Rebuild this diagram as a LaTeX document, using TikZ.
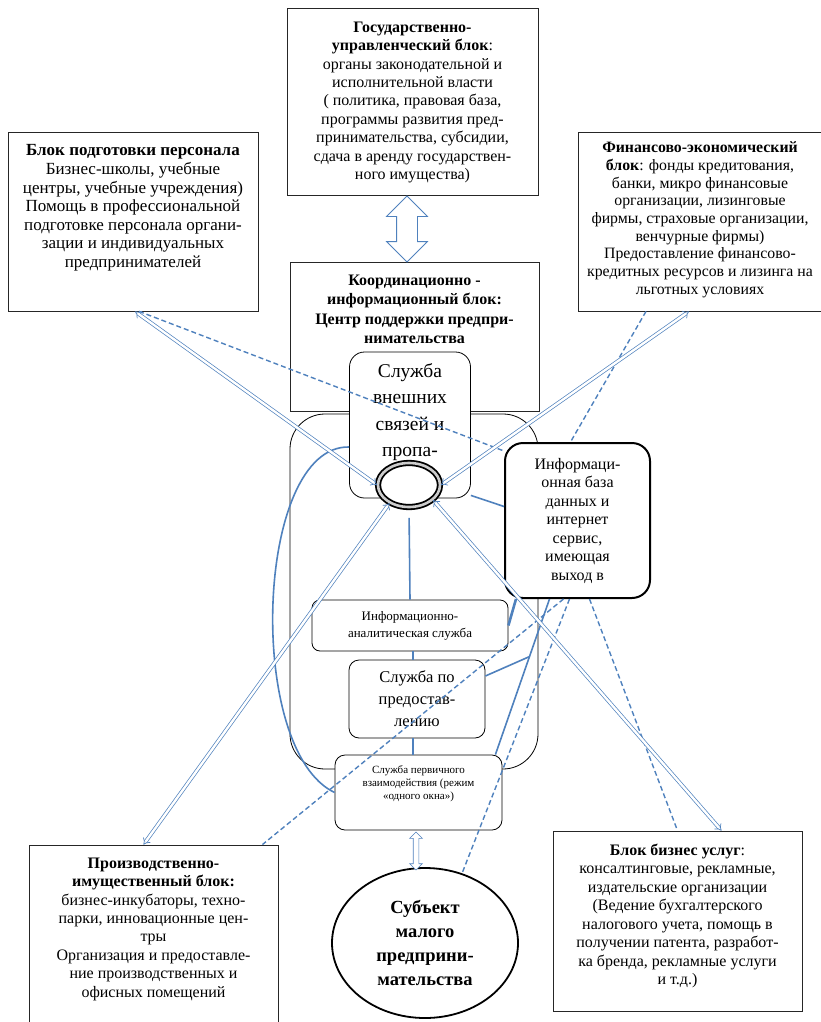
\documentclass[tikz,border=0pt]{standalone}
\usepackage{fontspec}
\setmainfont{Liberation Serif}
\usetikzlibrary{positioning,shapes.geometric,shapes.arrows,arrows.meta}
\definecolor{linkblue}{RGB}{79,129,189}
\newcommand\setfs[2]{\fontsize{#1}{#2}\selectfont}

\begin{document}
\begin{tikzpicture}[x=1pt,y=-1pt,
	block/.style={rectangle,draw=black!85,line width=0.8pt,fill=white,inner sep=0pt},
	service/.style={rectangle,rounded corners=10pt,draw=black,line width=0.8pt,fill=white,align=center,inner sep=0pt},
	txt/.style={align=center,inner sep=0pt},
	link/.style={draw=linkblue,line width=1.6pt},
	dlink/.style={draw=linkblue,line width=1.4pt,dash pattern=on 5pt off 3pt},
	twin/.style={draw=linkblue,line width=0.7pt,double=white,double distance=2.4pt,{Implies}-{Implies}},
	bigarrow/.style={double arrow,draw=linkblue,line width=0.8pt,fill=white,inner sep=0pt,rotate=90}
]

	\useasboundingbox (0,0) rectangle (821,1022);

	% outer blocks
	\node[block,minimum width=251pt,minimum height=187pt] (govBlk) at (412.5,101.5) {};
	\node[txt,below=14pt of govBlk.north,font=\setfs{16}{18.4}] (govTxt) {%
		\textbf{Государственно-}\\
		\textbf{управленческий блок}:\\
		органы законодательной и\\
		исполнительной власти\\
		( политика, правовая база,\\
		программы развития пред-\\
		принимательства, субсидии,\\
		сдача в аренду государствен-\\
		ного имущества)};

	\node[block,minimum width=250pt,minimum height=179pt] (trainBlk) at (133,221.5) {};
	\node[txt,below=13pt of trainBlk.north,font=\setfs{17}{18.6}] (trainTxt) {%
		\textbf{Блок подготовки персонала}\\
		Бизнес-школы, учебные\\
		центры, учебные учреждения)\\
		Помощь в профессиональной\\
		подготовке персонала органи-\\
		зации и индивидуальных\\
		предпринимателей};

	\node[block,minimum width=244pt,minimum height=179pt] (finBlk) at (700,221.5) {};
	\node[txt,below=10pt of finBlk.north,font=\setfs{15.8}{17.7}] (finTxt) {%
		\textbf{Финансово-экономический}\\
		\textbf{блок}: фонды кредитования,\\
		банки, микро финансовые\\
		организации, лизинговые\\
		фирмы, страховые организации,\\
		венчурные фирмы)\\
		Предоставление финансово-\\
		кредитных ресурсов и лизинга на\\
		льготных условиях};

	\node[block,minimum width=249pt,minimum height=149pt] (coordBlk) at (414.5,336.5) {};
	\node[txt,below=13pt of coordBlk.north,font=\bfseries\setfs{16}{19.5}] (coordTxt) {%
		Координационно -\\
		информационный блок:\\
		Центр поддержки предпри-\\
		нимательства};

	\node[bigarrow,minimum height=66pt,double arrow head extend=10pt] (govArrow) at (407,229) {\rule{0pt}{20pt}};

	% support centre
	\node[service,rounded corners=35pt,minimum width=248pt,minimum height=355pt] (platform) at (414,591.5) {};
	\node[service,rounded corners=15pt,minimum width=121pt,minimum height=146pt,font=\setfs{19.5}{26.5}] (extBox) at (410,425)
		{Служба\\внешних\\связей и\\пропа-\\ганды};
	\node[service,rounded corners=18pt,line width=2pt,minimum width=145pt,minimum height=155pt,font=\setfs{16}{18.5}] (infoBase) at (577.5,520.5)
		{Информаци-\\онная база\\данных и\\интернет\\сервис,\\имеющая\\выход в};
	\node[service,rounded corners=8pt,minimum width=196pt,minimum height=51pt,font=\setfs{13}{17}] (anaBox) at (410,625.5)
		{Информационно-\\аналитическая служба};
	\node[service,minimum width=136pt,minimum height=78pt,font=\setfs{16.5}{22}] (provBox) at (417,699)
		{Служба по\\предостав-\\лению};
	\node[service,minimum width=167pt,minimum height=75pt,font=\setfs{11}{13}] (firstBox) at (418.5,792.5)
		{Служба первичного\\взаимодействия (режим\\«одного окна»)\\[6pt]};

	\node[ellipse,draw=black,line width=1.8pt,double=gray!40,double distance=2.6pt,fill=white,
		minimum width=62pt,minimum height=44pt,inner sep=0pt] (ring) at (409,485) {};

	% bottom blocks
	\node[ellipse,draw=black,line width=1.8pt,fill=white,minimum width=186pt,minimum height=150pt,
		inner sep=0pt,align=center,font=\bfseries\setfs{18.5}{24}] (subject) at (425,943)
		{Субъект\\малого\\предприни-\\мательства};
	\node[bigarrow,minimum height=38pt,double arrow head extend=3.5pt,line width=0.6pt] (subjArrow) at (416,851) {\rule{0pt}{5pt}};

	\node[block,minimum width=249pt,minimum height=185pt] (prodBlk) at (153.5,937.5) {};
	\node[txt,below=13pt of prodBlk.north,font=\setfs{16}{18.4}] (prodTxt) {%
		\textbf{Производственно-}\\
		\textbf{имущественный блок:}\\
		бизнес-инкубаторы, техно-\\
		парки, инновационные цен-\\
		тры\\
		Организация и предоставле-\\
		ние производственных и\\
		офисных помещений};

	\node[block,minimum width=249pt,minimum height=180pt] (servBlk) at (677.5,921) {};
	\node[txt,below=13pt of servBlk.north,font=\setfs{16}{18.5}] (servTxt) {%
		\textbf{Блок бизнес услуг}:\\
		консалтинговые, рекламные,\\
		издательские организации\\
		(Ведение бухгалтерского\\
		налогового учета, помощь в\\
		получении патента, разработ-\\
		ка бренда, рекламные услуги\\
		и т.д.)};

	% solid links
	\draw[link,shorten <=10pt] (ring.south) -- (anaBox.north);
	\draw[link] ([xshift=3pt]anaBox.south) -- ([xshift=3pt]anaBox.south |- provBox.north);
	\draw[link] ([xshift=-4pt]provBox.south) -- ([xshift=-4pt]provBox.south |- firstBox.north);
	\draw[link] ([yshift=3pt]extBox.south east) -- ([yshift=14pt]infoBase.west);
	\draw[link,line width=2.6pt] (anaBox.east) -- ([xshift=12pt]infoBase.south west);
	\draw[link] ([xshift=-7pt]firstBox.north east) -- coordinate[pos=0.63] (jct) ([xshift=-28pt]infoBase.south);
	\draw[link] ([yshift=23pt]provBox.east) -- (jct);
	\draw[link] ([yshift=-22pt]extBox.west) .. controls (255,445) and (245,750) .. (firstBox.west);

	% dashed links
	\draw[dlink] ([xshift=6pt]trainBlk.south) -- ([yshift=-9pt]infoBase.north west);
	\draw[dlink] ([xshift=-54pt]finBlk.south) -- ([xshift=-7pt]infoBase.north);
	\draw[dlink] ([xshift=-14pt]infoBase.south) -- ([xshift=-16pt]prodBlk.north east);
	\draw[dlink] ([xshift=-8pt]infoBase.south) -- (subject.62);
	\draw[dlink] ([xshift=12pt]infoBase.south) -- (servBlk.north);

	% double links
	\draw[twin] ([xshift=2pt]trainBlk.south) -- (ring.west);
	\draw[twin] ([xshift=-11pt]finBlk.south) -- (ring.east);
	\draw[twin] (ring.223) -- ([xshift=-10pt]prodBlk.north);
	\draw[twin] (ring.328) -- ([xshift=44pt]servBlk.north);
\end{tikzpicture}
\end{document}
